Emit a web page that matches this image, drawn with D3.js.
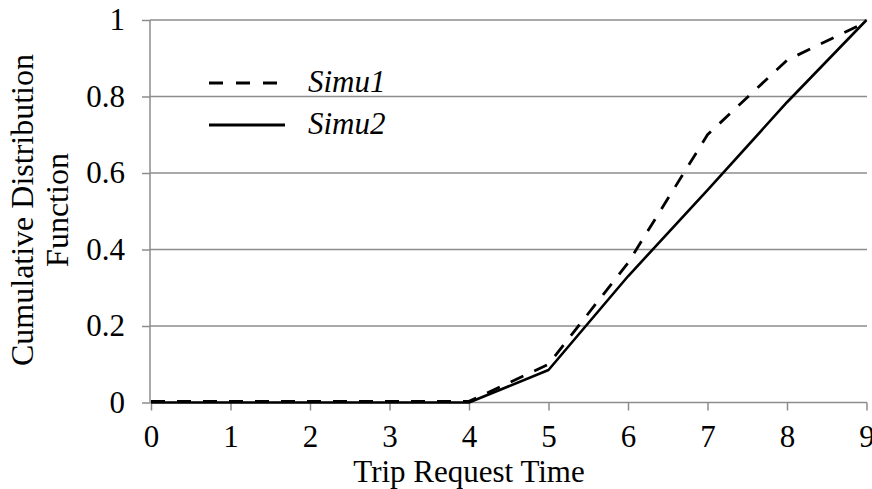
<!DOCTYPE html>
<html>
<head>
<meta charset="utf-8">
<script src="https://cdn.jsdelivr.net/npm/d3@7"></script>
<style>
  body { margin: 0; background: #fff; }
  svg text { font-family: "Liberation Serif", "Times New Roman", serif; fill: #000; }
</style>
</head>
<body>
<div id="chart"></div>
<script>
var width = 872,
    height = 489;

// data
var times = [0, 1, 2, 3, 4, 5, 6, 7, 8, 9];
var simu1 = [0.003, 0.003, 0.003, 0.003, 0.003, 0.10, 0.365, 0.70, 0.895, 0.995];
var simu2 = [0, 0, 0, 0, 0, 0.085, 0.33, 0.555, 0.785, 1.0];
var seriesNames = ["Simu1", "Simu2"];
var yTicks = [0, 0.2, 0.4, 0.6, 0.8, 1];
var xTicks = [0, 1, 2, 3, 4, 5, 6, 7, 8, 9];

var serif = "'Liberation Serif', 'Times New Roman', serif";

var svg = d3.select("#chart")
    .append("svg")
    .attr("width", width)
    .attr("height", height)

var x = d3.scaleLinear().domain([0, 9]).range([151, 866.5])
var y = d3.scaleLinear().domain([0, 1]).range([402.5, 20])

var gridColor = "#8c8c8c";

// horizontal gridlines
svg.append("g")
    .selectAll("line")
    .data(yTicks)
    .enter().append("line")
    .attr("x1", x(0) - 1)
    .attr("x2", 867)
    .attr("y1", function (d) { return y(d); })
    .attr("y2", function (d) { return y(d); })
    .style("stroke", gridColor)
    .style("stroke-width", 1.5)

// y axis
var yAxis = svg.append("g")
    .attr("transform", "translate(" + (x(0) - 1) + ",0)")
    .call(d3.axisLeft(y).tickValues(yTicks).tickSize(8).tickPadding(17)
        .tickFormat(function (d) { return d === 0 || d === 1 ? d3.format("d")(d) : d3.format(".1f")(d); }))
    .attr("font-family", serif)

yAxis.select(".domain").remove()
yAxis.append("line")
    .attr("x1", 0).attr("x2", 0)
    .attr("y1", y(1)).attr("y2", y(0))
    .style("stroke", gridColor)
    .style("stroke-width", 1.5)

// x axis
var xAxis = svg.append("g")
    .attr("transform", "translate(0," + y(0) + ")")
    .call(d3.axisBottom(x).tickValues(xTicks).tickSize(8).tickPadding(14).tickFormat(d3.format("d")))
    .attr("font-family", serif)

xAxis.select(".domain").remove()

svg.selectAll(".tick line")
    .style("stroke", gridColor)
    .style("stroke-width", 1.5)

svg.selectAll(".tick text")
    .style("font-size", "31px")
    .style("font-family", serif)
    .style("fill", "#000")

// lines
var line1 = d3.line()
    .x(function (d, i) { return x(times[i]); })
    .y(function (d) { return y(d); })

svg.append("path")
    .datum(simu2)
    .attr("d", line1)
    .style("fill", "none")
    .style("stroke", "#000")
    .style("stroke-width", 2.6)
    .style("stroke-linejoin", "round")

svg.append("path")
    .datum(simu1)
    .attr("d", line1)
    .style("fill", "none")
    .style("stroke", "#000")
    .style("stroke-width", 2.8)
    .style("stroke-dasharray", "14,12")

// legend
var legend = svg.append("g")

seriesNames.forEach(function (name, i) {
    var ly = i === 0 ? 83 : 125;
    legend.append("line")
        .attr("x1", 209)
        .attr("x2", i === 0 ? 277 : 285)
        .attr("y1", ly)
        .attr("y2", ly)
        .style("stroke", "#000")
        .style("stroke-width", 3.2)
        .style("stroke-dasharray", i === 0 ? "14,13" : null)
    legend.append("text")
        .attr("x", 308)
        .attr("y", ly + 9)
        .style("font-family", serif)
        .style("font-size", "31px")
        .style("font-style", "italic")
        .text(name)
})

// axis titles
svg.append("text")
    .attr("x", 469)
    .attr("y", 482)
    .style("font-family", serif)
    .style("font-size", "31px")
    .style("text-anchor", "middle")
    .text("Trip Request Time")

var yTitle = svg.append("text")
    .attr("transform", "translate(0,210) rotate(-90)")
    .style("font-family", serif)
    .style("font-size", "32px")
    .style("text-anchor", "middle")

yTitle.append("tspan").attr("x", 0).attr("y", 33).text("Cumulative Distribution")
yTitle.append("tspan").attr("x", 0).attr("y", 68).text("Function")
</script>
</body>
</html>
